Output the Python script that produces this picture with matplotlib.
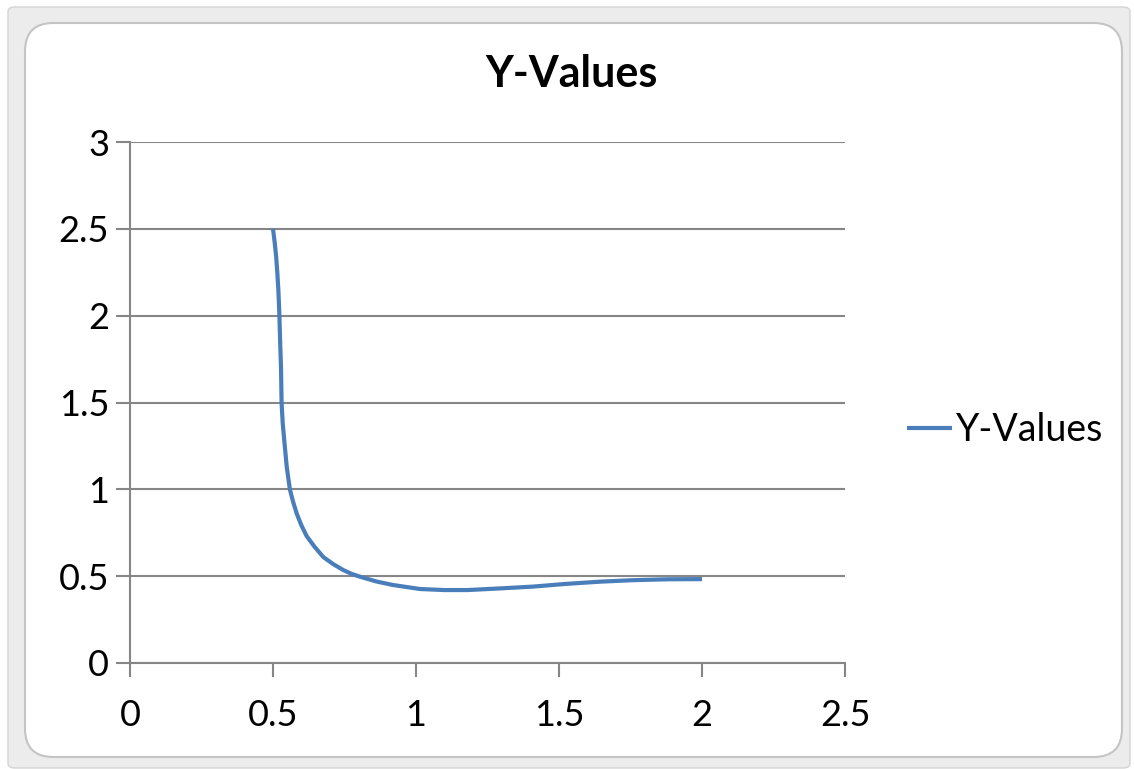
import matplotlib
matplotlib.use("Agg")
import matplotlib.pyplot as plt
from matplotlib.patches import FancyBboxPatch

# data
x_values = [0.500, 0.506, 0.511, 0.515, 0.519, 0.522, 0.525, 0.528, 0.530, 0.534,
            0.540, 0.548, 0.559, 0.570, 0.583, 0.600, 0.618, 0.645, 0.676, 0.710,
            0.746, 0.775, 0.804, 0.860, 0.920, 1.014, 1.100, 1.180, 1.300, 1.410,
            1.520, 1.640, 1.760, 1.880, 2.000]
y_values = [2.50, 2.42, 2.34, 2.25, 2.14, 2.02, 1.85, 1.70, 1.50, 1.38,
            1.27, 1.13, 1.00, 0.93, 0.86, 0.79, 0.73, 0.67, 0.61, 0.57,
            0.535, 0.513, 0.497, 0.470, 0.449, 0.426, 0.420, 0.420, 0.430, 0.440,
            0.455, 0.468, 0.477, 0.482, 0.483]
series_name = "Y-Values"
title = "Y-Values"
x_ticks = [0, 0.5, 1, 1.5, 2, 2.5]
x_tick_labels = ["0", "0.5", "1", "1.5", "2", "2.5"]
y_ticks = [0, 0.5, 1, 1.5, 2, 2.5, 3]
y_tick_labels = ["0", "0.5", "1", "1.5", "2", "2.5", "3"]

plt.rcParams['font.family'] = ['Lato', 'DejaVu Sans']

W, H = 1134, 769
fig = plt.figure(figsize=(W / 100, H / 100), dpi=100)
fig.patch.set_facecolor("white")

# frame (Excel chart border)
outer = FancyBboxPatch((8 / W, 1 / H), (1122 / W), (761 / H),
                       boxstyle="round,pad=0,rounding_size=0.006",
                       transform=fig.transFigure, facecolor="#ececec",
                       edgecolor="#d4d4d4", linewidth=1.0, zorder=0)
fig.patches.append(outer)
inner = FancyBboxPatch((25 / W, 12 / H), (1097 / W), (734 / H),
                       boxstyle="round,pad=0,rounding_size=0.025",
                       transform=fig.transFigure, facecolor="white",
                       edgecolor="#c4c4c4", linewidth=1.5, zorder=0.5,
                       mutation_aspect=W / H)
fig.patches.append(inner)

ax = fig.add_axes([130 / W, 1 - 663 / H, 715 / W, 521 / H])
ax.set_zorder(2)
ax.set_facecolor("none")
ax.plot(x_values, y_values, color="#4A7EBB", linewidth=3.0, label=series_name,
        solid_capstyle="butt", solid_joinstyle="round", zorder=3)

ax.set_xlim(0, 2.5)
ax.set_ylim(0, 3)
ax.set_xticks(x_ticks)
ax.set_xticklabels(x_tick_labels)
ax.set_yticks(y_ticks)
ax.set_yticklabels(y_tick_labels)

for s in ["top", "right"]:
    ax.spines[s].set_visible(False)
for s in ["left", "bottom"]:
    ax.spines[s].set_color("#868686")
    ax.spines[s].set_linewidth(1.5)
ax.grid(axis="y", color="#868686", linewidth=1.5)
ax.set_axisbelow(True)
ax.tick_params(axis="both", direction="out", length=10, width=1.5,
               color="#868686", labelsize=26, labelcolor="black")
ax.tick_params(axis="x", pad=16)
ax.tick_params(axis="y", pad=5)

title_txt = fig.text(572 / W, 1 - 74 / H, title, ha="center", va="center",
                     fontsize=31, fontweight="bold", zorder=5)

leg = ax.legend(loc="center left", bbox_to_anchor=(777 / 715, (663 - 430) / 521),
                frameon=False, fontsize=27, handlelength=1.2, handletextpad=0.1,
                borderaxespad=0, borderpad=0)
for line in leg.get_lines():
    line.set_linewidth(3.0)

fig.savefig("out.png", dpi=100, facecolor=fig.get_facecolor())
